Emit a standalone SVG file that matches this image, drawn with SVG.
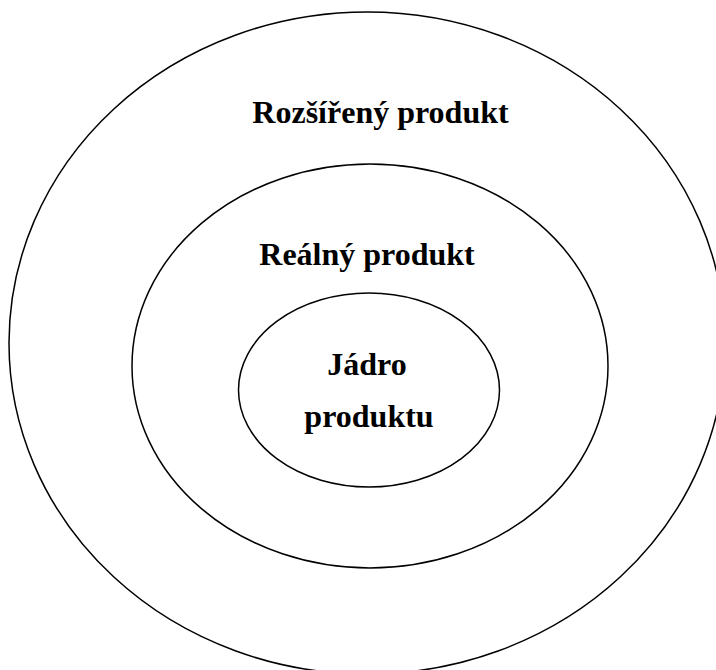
<svg xmlns="http://www.w3.org/2000/svg" width="716" height="670" viewBox="0 0 716 670">
<style>
.ring{fill:none;stroke:#000;stroke-width:1.5}
.lbl{font-family:"Liberation Serif","Times New Roman",serif;font-weight:bold;font-size:32px;fill:#000;text-anchor:middle}
</style>
<rect width="716" height="670" fill="#fff"/>
<g id="outer">
<ellipse class="ring" cx="367" cy="343" rx="358" ry="331"/>
<text class="lbl" x="380.5" y="123">Rozšířený produkt</text>
</g>
<g id="middle">
<ellipse class="ring" cx="370" cy="366" rx="238" ry="202"/>
<text class="lbl" x="367" y="265">Reálný produkt</text>
</g>
<g id="inner">
<ellipse class="ring" cx="369" cy="390" rx="130.5" ry="97"/>
<text class="lbl" x="367" y="375">Jádro</text>
<text class="lbl" x="369" y="427">produktu</text>
</g>
<g id="connectors"/>
</svg>
